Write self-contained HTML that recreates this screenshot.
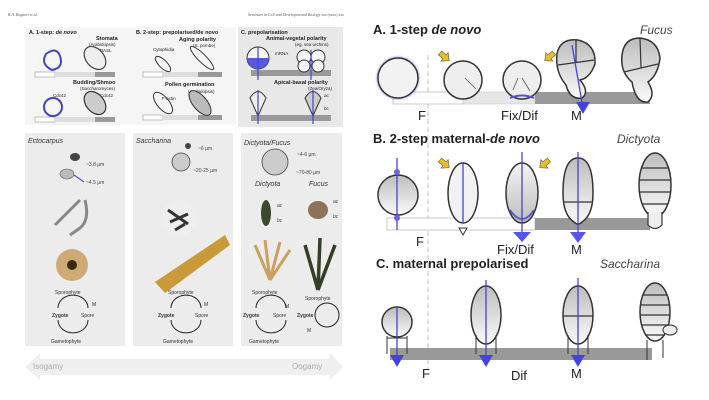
<!DOCTYPE html>
<html><head><meta charset="utf-8"><style>
html,body{margin:0;padding:0;background:#fff;width:709px;height:400px;overflow:hidden}
svg{display:block;font-family:"Liberation Sans","DejaVu Sans",sans-serif}
</style></head><body>
<svg width="709" height="400" viewBox="0 0 709 400" xmlns="http://www.w3.org/2000/svg">
<defs>
<linearGradient id="cg" x1="0" y1="0" x2="0" y2="1"><stop offset="0" stop-color="#bdbdbd"/><stop offset="1" stop-color="#fafafa"/></linearGradient>
<linearGradient id="cg2" x1="0" y1="0" x2="0" y2="1"><stop offset="0" stop-color="#f4f4f4"/><stop offset="1" stop-color="#bdbdbd"/></linearGradient>
<radialGradient id="glow"><stop offset="0.8" stop-color="#5a5ae0"/><stop offset="1" stop-color="#5a5ae0" stop-opacity="0"/></radialGradient>
<path id="ya" d="M0 -2.5 L6 -2.5 L6 -5.5 L12 0 L6 5.5 L6 2.5 L0 2.5Z" fill="#e8c020" stroke="#665" stroke-width="0.7"/>
</defs>
<!-- LEFT PANEL -->
<text x="8" y="16" font-size="4" font-style="italic" fill="#555" font-family="Liberation Serif">R.A. Bogaert et al.</text>
<text x="248" y="16" font-size="4" font-style="italic" fill="#555" font-family="Liberation Serif">Seminars in Cell and Developmental Biology xxx (xxxx) xxx</text>
<rect x="25" y="27" width="108" height="98" fill="#f5f5f5"/>
<rect x="133" y="27" width="103" height="98" fill="#f5f5f5"/>
<rect x="238" y="27" width="105" height="100" fill="#e8e8e8"/>
<g font-size="5.5" fill="#222">
<text x="29" y="34" font-weight="bold">A. 1-step: <tspan font-style="italic">de novo</tspan></text>
<text x="96" y="40" font-weight="bold">Stomata</text>
<text x="89" y="46" font-size="4.5">(Arabidopsis)</text>
<text x="100" y="52" font-size="4.5">BASL</text>
<text x="73" y="84" font-weight="bold">Budding/Shmoo</text>
<text x="80" y="90" font-size="4.5">(Saccharomyces)</text>
<text x="53" y="97" font-size="4.5">Cdc42</text><text x="100" y="97" font-size="4.5">Cdc42</text>
<text x="136" y="34" font-weight="bold">B. 2-step: prepolarised/de novo</text>
<text x="179" y="41" font-weight="bold">Aging polarity</text>
<text x="193" y="47" font-size="4.5">(S. pombe)</text>
<text x="153" y="51" font-size="4.5">Cytophidia</text>
<text x="165" y="86" font-weight="bold">Pollen germination</text>
<text x="188" y="93" font-size="4.5">(Arabidopsis)</text>
<text x="162" y="100" font-size="4.5">F-actin</text>
<text x="241" y="34" font-weight="bold">C. prepolarisation</text>
<text x="266" y="40" font-weight="bold">Animal-vegetal polarity</text>
<text x="295" y="46" font-size="4.5">(eg. sea urchins)</text>
<text x="275" y="55" font-size="4.5">mRNA</text>
<text x="274" y="84" font-weight="bold">Apical-basal polarity</text>
<text x="308" y="90" font-size="4.5">(Zea/Oryza)</text>
<text x="324" y="97" font-size="4.5" font-style="italic">ac</text><text x="324" y="110" font-size="4.5">bc</text>
</g>
<g>
<rect x="35" y="72" width="20" height="5" fill="#fff" stroke="#999" stroke-width="0.6"/><rect x="55" y="72" width="40" height="5" fill="#ddd"/><rect x="95" y="72" width="20" height="5" fill="#999"/>
<rect x="35" y="117" width="20" height="5" fill="#fff" stroke="#999" stroke-width="0.6"/><rect x="55" y="117" width="40" height="5" fill="#ddd"/><rect x="95" y="117" width="20" height="5" fill="#999"/>
<rect x="143" y="72" width="20" height="5" fill="#fff" stroke="#999" stroke-width="0.6"/><rect x="163" y="72" width="35" height="5" fill="#ddd"/><rect x="198" y="72" width="24" height="5" fill="#999"/>
<rect x="143" y="115" width="20" height="5" fill="#fff" stroke="#999" stroke-width="0.6"/><rect x="163" y="115" width="35" height="5" fill="#ddd"/><rect x="198" y="115" width="24" height="5" fill="#999"/>
<rect x="251" y="70" width="80" height="6" fill="#999"/><rect x="251" y="115" width="80" height="6" fill="#999"/>
</g>
<g fill="none" stroke-width="2">
<path d="M46 54 Q56 46 60 56 Q64 68 52 70 Q40 64 46 54Z" stroke="#4444bb"/>
<ellipse cx="95" cy="58" rx="9" ry="13" transform="rotate(-40 95 58)" stroke="#444" stroke-width="1.2" fill="#eee"/>
<circle cx="53" cy="107" r="9" stroke="#4444bb"/>
<ellipse cx="95" cy="103" rx="9" ry="13" transform="rotate(-40 95 103)" stroke="#333" stroke-width="1.2" fill="#ccc"/>
<ellipse cx="163" cy="64" rx="4" ry="10" transform="rotate(-45 163 64)" stroke="#333" stroke-width="1"/>
<ellipse cx="202" cy="58" rx="4" ry="16" transform="rotate(-45 202 58)" stroke="#333" stroke-width="1"/>
<ellipse cx="163" cy="103" rx="6" ry="13" transform="rotate(-40 163 103)" stroke="#333" stroke-width="1"/>
<ellipse cx="200" cy="103" rx="7" ry="15" transform="rotate(-40 200 103)" stroke="#333" stroke-width="1" fill="#bbb"/>
<circle cx="258" cy="58" r="11" stroke="#333" stroke-width="1" fill="#f5f5f5"/>
<path d="M247 58 A11 11 0 0 0 269 58Z" fill="#5a5ad8" stroke="none"/>
<g stroke="#333" stroke-width="1" fill="#f5f5f5"><circle cx="304" cy="57" r="7"/><circle cx="318" cy="57" r="7"/><circle cx="304" cy="66" r="6"/><circle cx="318" cy="66" r="6"/></g>
<path d="M250 98 Q258 85 266 98 L258 116Z" stroke="#333" stroke-width="1" fill="#eee"/>
<path d="M305 98 Q313 85 321 98 L313 116Z" stroke="#333" stroke-width="1" fill="#ccc"/>
</g>
<g stroke="#4444dd" stroke-width="1.2"><line x1="258" y1="47" x2="258" y2="80"/><line x1="311" y1="50" x2="311" y2="80"/><line x1="258" y1="90" x2="258" y2="124"/><line x1="313" y1="90" x2="313" y2="124"/></g>
<rect x="25" y="133" width="100" height="213" fill="#ececec"/>
<rect x="133" y="133" width="100" height="213" fill="#ececec"/>
<rect x="241" y="133" width="101" height="213" fill="#ececec"/>
<g font-size="7" font-style="italic" fill="#333">
<text x="28" y="143">Ectocarpus</text><text x="136" y="143">Saccharina</text><text x="244" y="145">Dictyota/Fucus</text>
<text x="255" y="186">Dictyota</text><text x="309" y="186">Fucus</text>
</g>
<g font-size="5" fill="#444">
<text x="86" y="166">~3.8 µm</text><text x="86" y="184">~4.5 µm</text>
<text x="198" y="150">~6 µm</text><text x="193" y="172">~20-25 µm</text>
<text x="297" y="156">~4-6 µm</text><text x="296" y="174">~70-80 µm</text>
<text x="277" y="207" font-style="italic">ac</text><text x="277" y="222" font-style="italic">bc</text>
<text x="333" y="203" font-style="italic">ac</text><text x="333" y="218" font-style="italic">bc</text>
</g>
<ellipse cx="75" cy="157" rx="5" ry="4" fill="#444"/><ellipse cx="67" cy="174" rx="7" ry="5" fill="#bbb" stroke="#555" stroke-width="0.6"/>
<path d="M74 175 L84 182" stroke="#55c" stroke-width="1.2"/>
<path d="M55 225 L80 200 M85 200 Q90 220 80 228 Q70 235 70 235" stroke="#888" stroke-width="3" fill="none"/>
<circle cx="72" cy="265" r="16" fill="#c9a060" opacity="0.85"/><circle cx="72" cy="265" r="5" fill="#3a2a10"/>
<circle cx="181" cy="162" r="9" fill="#ccc" stroke="#444" stroke-width="0.8"/>
<circle cx="188" cy="146" r="3" fill="#444"/>
<circle cx="179" cy="218" r="18" fill="#eee"/><path d="M168 210 l20 14 M170 222 l18 -8 M175 230 l10 -6" stroke="#333" stroke-width="3"/>
<path d="M155 282 L225 235 L230 245 L165 293Z" fill="#c99a3a"/>
<circle cx="275" cy="162" r="13" fill="#ccc" stroke="#444" stroke-width="0.8"/>
<ellipse cx="266" cy="213" rx="5" ry="13" fill="#3b4a2a"/>
<ellipse cx="318" cy="210" rx="10" ry="9" fill="#8e7258"/>
<path d="M270 280 L255 245 M270 280 L265 240 M270 280 L280 242 M270 280 L290 250" stroke="#c9a060" stroke-width="3"/>
<path d="M318 290 L305 245 M318 290 L320 238 M318 290 L335 245" stroke="#334025" stroke-width="3.5"/>
<g font-size="5" fill="#333">
<text x="55" y="294">Sporophyte</text><text x="52" y="317" font-weight="bold">Zygote</text><text x="81" y="317">Spore</text><text x="51" y="343">Gametophyte</text><text x="92" y="306">M</text>
<text x="168" y="294">Sporophyte</text><text x="158" y="317" font-weight="bold">Zygote</text><text x="195" y="317">Spore</text><text x="163" y="343">Gametophyte</text><text x="204" y="306">M</text>
<text x="252" y="294">Sporophyte</text><text x="243" y="317" font-weight="bold">Zygote</text><text x="273" y="317">Spore</text><text x="249" y="343">Gametophyte</text><text x="285" y="308">M</text>
<text x="305" y="300">Sporophyte</text><text x="297" y="317" font-weight="bold">Zygote</text><text x="307" y="332">M</text>
</g>
<g fill="none" stroke="#222" stroke-width="1">
<path d="M58 308 A14 12 0 0 1 88 308"/><path d="M58 320 A14 12 0 0 0 88 320"/>
<path d="M171 308 A14 12 0 0 1 201 308"/><path d="M171 320 A14 12 0 0 0 201 320"/>
<path d="M256 308 A14 12 0 0 1 286 308"/><path d="M256 320 A14 12 0 0 0 286 320"/>
<circle cx="327" cy="315" r="12"/>
</g>
<path d="M25 367 L40 353 L40 359 L330 359 L330 353 L343 367 L330 380 L330 375 L40 375 L40 380Z" fill="#efefef"/>
<text x="33" y="369" font-size="8" fill="#aaa">Isogamy</text><text x="292" y="369" font-size="8" fill="#aaa">Oogamy</text>

<!-- RIGHT PANEL -->
<line x1="428" y1="55" x2="428" y2="370" stroke="#ccc" stroke-width="1.2" stroke-dasharray="5,3"/>
<g font-size="13" font-weight="bold" fill="#222">
<text x="373" y="34">A. 1-step <tspan font-style="italic">de novo</tspan></text>
<text x="373" y="143">B. 2-step maternal-<tspan font-style="italic">de novo</tspan></text>
<text x="376" y="268">C. maternal prepolarised</text>
</g>
<g font-size="12" font-style="italic" fill="#444">
<text x="640" y="34">Fucus</text><text x="617" y="143">Dictyota</text><text x="600" y="268">Saccharina</text>
</g>
<g font-size="13" fill="#222">
<text x="418" y="120">F</text><text x="501" y="120">Fix/Dif</text><text x="571" y="120">M</text>
<text x="416" y="246">F</text><text x="497" y="254">Fix/Dif</text><text x="571" y="254">M</text>
<text x="422" y="378">F</text><text x="511" y="380">Dif</text><text x="571" y="378">M</text>
</g>
<rect x="393" y="92" width="70" height="12" fill="#fff" stroke="#bbb" stroke-width="0.8"/>
<rect x="463" y="92" width="72" height="12" fill="#e6e6e6" stroke="#ccc" stroke-width="0.6"/>
<rect x="535" y="92" width="115" height="12" fill="#999"/>
<circle cx="398" cy="78" r="23" fill="url(#glow)" opacity="0.7"/>
<circle cx="398" cy="78" r="20" fill="#f2f2f2" stroke="#333" stroke-width="1.5"/>
<circle cx="463" cy="80" r="19" fill="#eee" stroke="#333" stroke-width="1.5"/>
<circle cx="522" cy="80" r="19" fill="#eee" stroke="#333" stroke-width="1.5"/>
<path d="M465 78 L476 89 M518 78 L513 90 M522 78 L530 91" stroke="#555" stroke-width="0.8"/>
<path d="M510 98 Q522 93 534 98" stroke="#55c" stroke-width="2" fill="none"/>
<use href="#ya" transform="translate(440 53) rotate(40)"/>
<use href="#ya" transform="translate(554 53) rotate(140)"/>
<path d="M557 54 Q560 38 578 40 Q596 44 595 64 Q590 78 580 80 Q590 92 582 98 Q570 100 566 85 Q555 72 557 54Z" fill="url(#cg)" stroke="#333" stroke-width="1.5"/>
<path d="M558 65 L594 60 M576 40 L576 63" stroke="#333" stroke-width="1.2"/>
<line x1="572" y1="45" x2="583" y2="108" stroke="#4444dd" stroke-width="1.3"/>
<path d="M576 102 L590 102 L583 114Z" fill="#4444dd"/>
<path d="M622 55 Q624 38 640 38 Q658 40 660 58 Q658 75 648 82 Q656 95 648 102 Q636 104 632 82 Q620 72 622 55Z" fill="url(#cg)" stroke="#333" stroke-width="1.5"/>
<path d="M624 72 L658 64 M640 38 L641 68" stroke="#333" stroke-width="1.2"/>
<rect x="387" y="218" width="148" height="12" fill="#fff" stroke="#bbb" stroke-width="0.8"/>
<rect x="535" y="218" width="115" height="12" fill="#999"/>
<circle cx="398" cy="195" r="20" fill="url(#cg)" stroke="#333" stroke-width="1.5"/>
<line x1="397" y1="158" x2="397" y2="230" stroke="#4444dd" stroke-width="1.3"/>
<circle cx="397" cy="172" r="3" fill="#66d"/><circle cx="397" cy="218" r="3" fill="#66d"/>
<ellipse cx="463" cy="193" rx="15" ry="30" fill="#f2f2f2" stroke="#333" stroke-width="1.5"/>
<line x1="463" y1="162" x2="463" y2="223" stroke="#4444dd" stroke-width="1.3"/>
<path d="M459 228 L467 228 L463 235Z" fill="#fff" stroke="#333" stroke-width="1"/>
<ellipse cx="522" cy="193" rx="16" ry="30" fill="url(#cg2)" stroke="#333" stroke-width="1.5"/>
<line x1="522" y1="152" x2="522" y2="232" stroke="#4444dd" stroke-width="1.3"/>
<path d="M513 232 L531 232 L522 242Z" fill="#5555ee"/>
<path d="M510 210 Q522 228 534 210" stroke="#55c" stroke-width="2" fill="none"/>
<use href="#ya" transform="translate(440 160) rotate(40)"/>
<use href="#ya" transform="translate(549 160) rotate(140)"/>
<path d="M563 193 Q563 158 578 158 Q593 158 593 193 Q593 215 582 222 Q578 226 574 222 Q563 215 563 193Z" fill="url(#cg)" stroke="#333" stroke-width="1.5"/>
<line x1="563" y1="202" x2="593" y2="202" stroke="#333" stroke-width="1.2"/>
<line x1="578" y1="152" x2="578" y2="232" stroke="#4444dd" stroke-width="1.3"/>
<path d="M570 232 L586 232 L578 243Z" fill="#5555ee"/>
<ellipse cx="655" cy="185" rx="16" ry="32" fill="url(#cg)" stroke="#333" stroke-width="1.5"/>
<path d="M648 212 L648 225 Q655 232 662 225 L662 212" fill="#eee" stroke="#333" stroke-width="1.2"/>
<g stroke="#333" stroke-width="1.2"><line x1="642" y1="168" x2="668" y2="168"/><line x1="640" y1="180" x2="670" y2="180"/><line x1="640" y1="192" x2="670" y2="192"/><line x1="642" y1="204" x2="668" y2="204"/></g>
<rect x="390" y="348" width="262" height="12" fill="#999"/>
<circle cx="397" cy="322" r="15" fill="url(#cg)" stroke="#333" stroke-width="1.5"/>
<path d="M387 336 V354 M407 336 V354 M387 338 H407" stroke="#333" stroke-width="1"/>
<line x1="397" y1="308" x2="397" y2="362" stroke="#4444dd" stroke-width="1.3"/>
<path d="M390 355 L404 355 L397 367Z" fill="#4444dd"/>
<ellipse cx="486" cy="315" rx="15" ry="29" fill="url(#cg)" stroke="#333" stroke-width="1.5"/>
<path d="M476 335 V354 M496 335 V354" stroke="#333" stroke-width="1"/>
<line x1="486" y1="280" x2="486" y2="362" stroke="#4444dd" stroke-width="1.3"/>
<path d="M479 355 L493 355 L486 367Z" fill="#4444dd"/>
<ellipse cx="578" cy="315" rx="15" ry="29" fill="url(#cg)" stroke="#333" stroke-width="1.5"/>
<line x1="563" y1="316" x2="593" y2="316" stroke="#333" stroke-width="1.2"/>
<path d="M568 335 V354 M588 335 V354" stroke="#333" stroke-width="1"/>
<line x1="578" y1="278" x2="578" y2="362" stroke="#4444dd" stroke-width="1.3"/>
<path d="M571 355 L585 355 L578 367Z" fill="#4444dd"/>
<ellipse cx="655" cy="312" rx="15" ry="29" fill="url(#cg)" stroke="#333" stroke-width="1.5"/>
<ellipse cx="670" cy="330" rx="7" ry="5" fill="#eee" stroke="#333" stroke-width="1"/>
<g stroke="#333" stroke-width="1.2"><line x1="643" y1="295" x2="667" y2="295"/><line x1="641" y1="305" x2="669" y2="305"/><line x1="640" y1="315" x2="670" y2="315"/><line x1="641" y1="325" x2="669" y2="325"/><line x1="645" y1="335" x2="665" y2="335"/></g>
<path d="M647 340 V360 M663 340 V358" stroke="#333" stroke-width="1"/>
</svg>
</body></html>
